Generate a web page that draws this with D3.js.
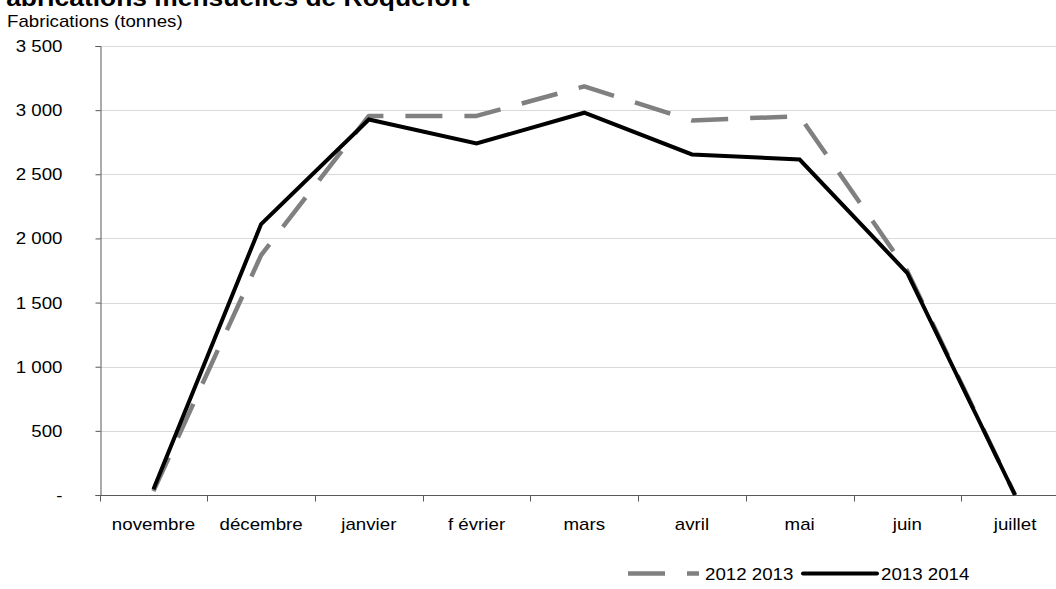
<!DOCTYPE html>
<html>
<head>
<meta charset="utf-8">
<script src="https://cdn.jsdelivr.net/npm/d3@7"></script>
<style>
  html, body { margin: 0; padding: 0; background: #fff; }
  svg { display: block; overflow: hidden; }
  text { font-family: "Liberation Sans", Arial, sans-serif; fill: #000; }
</style>
</head>
<body>
<svg id="chart" width="1056" height="589"></svg>
<script>
const months = ["novembre", "décembre", "janvier", "f évrier", "mars", "avril", "mai", "juin", "juillet"];
const s2012 = [30, 1870, 2955, 2955, 3185, 2920, 2953, 1745, 0];
const s2014 = [44, 2112, 2927, 2740, 2980, 2655, 2615, 1730, 0];
const yTicks = [0, 500, 1000, 1500, 2000, 2500, 3000, 3500];
const yTickLabels = ["-", "500", "1 000", "1 500", "2 000", "2 500", "3 000", "3 500"];
const seriesNames = ["2012 2013", "2013 2014"];
const titleText = "Fabrications mensuelles de Roquefort";
const yTitle = "Fabrications (tonnes)";

const svg = d3.select("#chart");
const W = 1056, H = 589;
const left = 99.6, step = 107.7;
const x = d3.scaleBand().domain(months).range([left, left + step * months.length]).padding(0);
const y = d3.scaleLinear().domain([0, 3500]).range([495, 46]);

// gridlines
svg.append("g").selectAll("line").data(yTicks.filter(d => d > 0)).join("line")
  .attr("x1", left).attr("x2", W)
  .attr("y1", d => Math.round(y(d)) + 0.5).attr("y2", d => Math.round(y(d)) + 0.5)
  .attr("stroke", "#d9d9d9").attr("stroke-width", 1);

// y axis
const yAxis = d3.axisLeft(y).tickValues(yTicks).tickSize(5).tickPadding(33)
  .tickFormat((d, i) => yTickLabels[i]);
const gy = svg.append("g").attr("transform", `translate(${Math.round(left) + 0.5},0)`).call(yAxis);
gy.select(".domain").attr("stroke", "#595959");
gy.selectAll(".tick line").attr("stroke", "#595959");
gy.selectAll(".tick text").style("font-size", "17px").attr("font-family", null).attr("fill", "#000");

// x axis
const xAxis = d3.axisBottom(x).tickSize(0).tickPadding(0);
const gx = svg.append("g").attr("transform", `translate(0,${Math.round(y(0)) + 0.5})`).call(xAxis);
gx.select(".domain").attr("stroke", "#595959").attr("d", `M${left},0H${W + 20}`);
gx.selectAll(".tick text").style("font-size", "17px").attr("font-family", null)
  .attr("fill", "#000").attr("y", 34).attr("dy", 0);
// x tick marks at category boundaries
gx.append("g").selectAll("line").data(d3.range(months.length + 1)).join("line")
  .attr("x1", i => Math.round(left + i * step) + 0.5).attr("x2", i => Math.round(left + i * step) + 0.5)
  .attr("y1", 0).attr("y2", 6).attr("stroke", "#595959");

// lines
const line = d3.line().x((d, i) => x(months[i]) + x.bandwidth() / 2).y(d => y(d));
svg.append("path").datum(s2012).attr("d", line).attr("fill", "none")
  .attr("stroke", "#808080").attr("stroke-width", 4.5).attr("stroke-dasharray", "37,22")
  .attr("stroke-linejoin", "round");
svg.append("path").datum(s2014).attr("d", line).attr("fill", "none")
  .attr("stroke", "#000").attr("stroke-width", 4).attr("stroke-linejoin", "miter");

// title & y title
svg.append("text").attr("x", -10).attr("y", 6).style("font-size", "24px").style("font-weight", "bold").text(titleText);
svg.append("text").attr("x", 7).attr("y", 27).style("font-size", "17px").text(yTitle);

// legend
const lg = svg.append("g");
lg.append("line").attr("x1", 628).attr("x2", 699).attr("y1", 573.5).attr("y2", 573.5)
  .attr("stroke", "#808080").attr("stroke-width", 4.5).attr("stroke-dasharray", "37,22");
lg.append("text").attr("x", 705).attr("y", 580).style("font-size", "17px").text(seriesNames[0]);
lg.append("line").attr("x1", 803).attr("x2", 877).attr("y1", 573.5).attr("y2", 573.5)
  .attr("stroke", "#000").attr("stroke-width", 4).attr("stroke-linecap", "round");
lg.append("text").attr("x", 881).attr("y", 580).style("font-size", "17px").text(seriesNames[1]);

// slight horizontal stretch to match reference glyph widths
svg.selectAll("text").each(function() {
  const n = this.getComputedTextLength();
  if (n > 0) d3.select(this).attr("textLength", n * 1.1).attr("lengthAdjust", "spacingAndGlyphs");
});
</script>
</body>
</html>
